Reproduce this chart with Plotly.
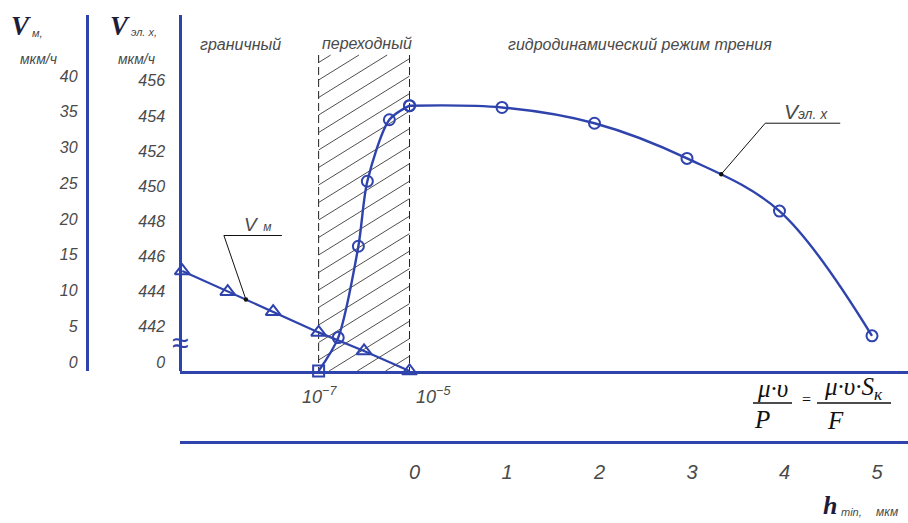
import numpy as np
import plotly.graph_objects as go

W, H = 908, 523

# ---------------- data ----------------
# boundary + transition regime: film thickness (log scale)
h_wear = [1e-10, 1e-9, 1e-8, 1e-7, 1e-6, 1e-5]
v_wear = [14.0, 11.1, 8.3, 5.4, 2.8, 0.0]            # V_м, мкм/ч

h_trans = [1e-7, 2.7e-7, 7.5e-7, 1.18e-6, 3.6e-6, 1e-5]
v_trans = [0.0, 441.9, 447.1, 450.8, 454.3, 455.1]   # V_эл.х, мкм/ч

# hydrodynamic regime: h_min, мкм
h_hydro = [0, 1, 2, 3, 4, 5]
v_hydro = [455.1, 455.0, 454.1, 452.1, 449.1, 442.0]

vm_ticks = [0, 5, 10, 15, 20, 25, 30, 35, 40]
vel_ticks = [440, 442, 444, 446, 448, 450, 452, 454, 456]
vel_ticktext = ["0", "442", "444", "446", "448", "450", "452", "454", "456"]
h_ticks = [0, 1, 2, 3, 4, 5]

# leader attachment points on the curves
vm_leader = (-8.6, 10.0)      # (log10 h, V_м)
vel_leader = (3.37, 451.2)    # (h_min, V_эл.х)

# ---------------- geometry of the axes (page pixels) ----------------
X_LEFT, X_SPLIT, X_LOG_END = 180.0, 409.5, 420.0
X_VM_AXIS = 86.5
Y_TOP, Y_BASE, Y_LOWER = 15.0, 371.0, 442.0
PX_PER_DEC = 45.45
LOG_MIN = -10.05
LOG_MAX = LOG_MIN + (X_LOG_END - X_LEFT) / PX_PER_DEC
PX_PER_H = 92.5
H_MIN = -(X_SPLIT - X_LEFT) / PX_PER_H
H_MAX = (W - X_SPLIT) / PX_PER_H
VM_PX = 7.15
VEL_PX = 17.57
VEL_FLOOR = 440.0          # axis break: everything below is drawn at "0"

BLUE = "#2f43ad"
INK = "#4a4a4a"


def px_to_logx(p):
    return LOG_MIN + (p - X_LEFT) / PX_PER_DEC


def logx_to_px(l):
    return X_LEFT + (l - LOG_MIN) * PX_PER_DEC


def h_to_px(h):
    return X_SPLIT + h * PX_PER_H


def px_to_vm(p):
    return (Y_BASE - p) / VM_PX


def vm_to_px(v):
    return Y_BASE - v * VM_PX


def vel_to_px(v):
    return Y_BASE - (v - VEL_FLOOR) * VEL_PX


def px(x):
    return x / W


def py(y):
    return 1 - y / H


v_trans_plot = [max(v, VEL_FLOOR) for v in v_trans]

# ---------------- hatched transition band ----------------
band_x0, band_x1 = logx_to_px(-7), logx_to_px(-5)
band_y0, band_y1 = 55.0, Y_BASE
slope, step = 0.62, 17.5
hx, hy = [], []
c = band_y0 + ((80 - band_y0) % step)
c_end = band_y1 + slope * (band_x1 - band_x0)
while c < c_end:
    xa = max(band_x0, band_x0 + (c - band_y1) / slope)
    xb = min(band_x1, band_x0 + (c - band_y0) / slope)
    if xb > xa:
        for xp in (xa, xb):
            yp = c - slope * (xp - band_x0)
            hx.append(10 ** px_to_logx(xp))
            hy.append(px_to_vm(yp))
        hx.append(None)
        hy.append(None)
    c += step

fig = go.Figure()

fig.add_trace(go.Scatter(x=hx, y=hy, xaxis="x", yaxis="y", mode="lines",
                         line=dict(color="#222222", width=0.8), hoverinfo="skip"))
fig.add_trace(go.Scatter(x=[1e-7, 1e-7, None, 1e-5, 1e-5],
                         y=[px_to_vm(band_y0), 0, None, px_to_vm(band_y0), 0],
                         xaxis="x", yaxis="y", mode="lines",
                         line=dict(color="#222222", width=1, dash="8px,4px"),
                         hoverinfo="skip"))

# V_м: wear rate
fig.add_trace(go.Scatter(x=h_wear, y=v_wear, xaxis="x", yaxis="y",
                         mode="lines+markers", cliponaxis=False,
                         line=dict(color=BLUE, width=2.2),
                         marker=dict(symbol="triangle-up-open", size=13,
                                     color=BLUE, line=dict(width=2, color=BLUE))))

# V_эл.х: transition part (log h)
fig.add_trace(go.Scatter(x=h_trans, y=v_trans_plot, xaxis="x", yaxis="y2",
                         mode="lines+markers", cliponaxis=False,
                         line=dict(color=BLUE, width=2.4, shape="spline", smoothing=0.8),
                         marker=dict(symbol=["square-open"] + ["circle-open"] * 5,
                                     size=11, color=BLUE,
                                     line=dict(width=2, color=BLUE))))

# V_эл.х: hydrodynamic part (linear h_min)
fig.add_trace(go.Scatter(x=h_hydro, y=v_hydro, xaxis="x2", yaxis="y2",
                         mode="lines+markers", cliponaxis=False,
                         line=dict(color=BLUE, width=2.4, shape="spline", smoothing=1),
                         marker=dict(symbol="circle-open", size=11, color=BLUE,
                                     line=dict(width=2, color=BLUE))))

# lower h_min scale
fig.add_trace(go.Scatter(x=[], y=[], xaxis="x3", yaxis="y2", hoverinfo="skip"))

tick_font = dict(family="Liberation Sans", size=16, color=INK, style="italic")
common = dict(showgrid=False, zeroline=False, ticks="", automargin=False)

fig.update_layout(
    template="none",
    width=W, height=H,
    margin=dict(l=0, r=0, t=0, b=0, pad=0, autoexpand=False),
    paper_bgcolor="white", plot_bgcolor="rgba(0,0,0,0)",
    showlegend=False,
    xaxis=dict(type="log", domain=[px(X_LEFT), px(X_LOG_END)],
               range=[LOG_MIN, LOG_MAX], anchor="y", showline=False,
               showticklabels=False, **common),
    xaxis2=dict(domain=[px(X_LEFT), 1], range=[H_MIN, H_MAX], anchor="y2",
                showline=True, linecolor=BLUE, linewidth=2.5,
                showticklabels=False, **common),
    xaxis3=dict(domain=[px(X_LEFT), 1], range=[H_MIN, H_MAX], anchor="free",
                position=py(Y_LOWER), showline=True, linecolor=BLUE, linewidth=2.5,
                tickvals=h_ticks, ticklabelstandoff=11, ticklabelshift=5,
                tickfont=dict(family="Liberation Sans", size=20, color=INK,
                              style="italic"), **common),
    yaxis=dict(domain=[py(Y_BASE), py(Y_TOP)], range=[0, (Y_BASE - Y_TOP) / VM_PX],
               anchor="free", position=px(X_VM_AXIS), showline=True,
               linecolor=BLUE, linewidth=2.5, tickvals=vm_ticks,
               ticklabelshift=-9, ticklabelstandoff=5, tickfont=tick_font, **common),
    yaxis2=dict(domain=[py(Y_BASE), py(Y_TOP)],
                range=[VEL_FLOOR, VEL_FLOOR + (Y_BASE - Y_TOP) / VEL_PX],
                anchor="free", position=px(X_LEFT), overlaying="y",
                showline=True, linecolor=BLUE, linewidth=2.5,
                tickvals=vel_ticks, ticktext=vel_ticktext,
                ticklabelshift=-9, ticklabelstandoff=11, tickfont=tick_font, **common),
)


def note(x, y, text, size=16, color=INK, family="Liberation Sans", style="italic",
         weight="normal", xanchor="center", yanchor="middle"):
    fig.add_annotation(x=px(x), y=py(y), xref="paper", yref="paper", text=text,
                       showarrow=False, xanchor=xanchor, yanchor=yanchor,
                       font=dict(family=family, size=size, color=color,
                                 style=style, weight=weight))


# axis titles
note(21, 26, "V", size=27, color="#1d1d3a", family="Liberation Serif", weight="bold")
note(37, 33, "м,", size=11)
note(38, 59, "мкм/ч", size=14)
note(120, 26, "V", size=27, color="#1d1d3a", family="Liberation Serif", weight="bold")
note(144, 32, "эл. х,", size=11)
note(136, 59, "мкм/ч", size=14)

# regime names
note(240, 44, "граничный", size=16)
note(367, 43, "переходный", size=16)
note(640, 44, "гидродинамический режим трения", size=16)

# log-scale labels on the base line
note(319, 395, "10<sup>−7</sup>", size=18)
note(433, 395, "10<sup>−5</sup>", size=18)

# axis break sign
note(X_LEFT, 342, "≈", size=30, color=BLUE, style="normal")

# abscissa definition
serif = "Liberation Serif"
note(772, 388, "μ·υ", size=25, color="#111111", family=serif)
note(762, 419, "P", size=25, color="#111111", family=serif)
note(806, 399, "=", size=16, color="#111111", family=serif, style="normal")
note(853, 388, "μ·υ·S<sub>к</sub>", size=25, color="#111111", family=serif)
note(835, 420, "F", size=25, color="#111111", family=serif)
for x0, x1 in ((753, 792), (817, 891)):
    fig.add_shape(type="line", xref="paper", yref="paper", x0=px(x0), x1=px(x1),
                  y0=py(403), y1=py(403), line=dict(color="#111111", width=1.4))

note(830, 505, "h", size=26, color="#1d1d3a", family=serif, weight="bold")
note(851, 512, "min,", size=11)
note(887, 512, "мкм", size=12)


# leaders to the curve names (page-pixel geometry derived from the axis scales)
def leader(x_dot, y_dot, dx, dy, tail, text, tx, ty, size, sub):
    x_knee, y_knee = x_dot + dx, y_dot - dy
    fig.add_shape(type="line", xref="paper", yref="paper",
                  x0=px(x_dot), y0=py(y_dot), x1=px(x_knee), y1=py(y_knee),
                  line=dict(color="#111111", width=1))
    fig.add_shape(type="line", xref="paper", yref="paper",
                  x0=px(x_knee), y0=py(y_knee), x1=px(x_knee + tail), y1=py(y_knee),
                  line=dict(color="#111111", width=1))
    fig.add_shape(type="circle", xref="paper", yref="paper",
                  x0=px(x_dot - 2.2), x1=px(x_dot + 2.2),
                  y0=py(y_dot + 2.2), y1=py(y_dot - 2.2),
                  fillcolor="#111111", line=dict(width=0))
    note(x_dot + tx, y_dot - ty,
         f"V<span style='font-size:{sub}px'>{text}</span>", size=size)


leader(logx_to_px(vm_leader[0]), vm_to_px(vm_leader[1]), -22, 64, 58,
       "  м", 12, 75, 19, 12)
leader(h_to_px(vel_leader[0]), vel_to_px(vel_leader[1]), 44, 51, 75,
       "эл. х", 85, 63, 21, 14)

fig.write_html("out.html", config={"displayModeBar": False})
